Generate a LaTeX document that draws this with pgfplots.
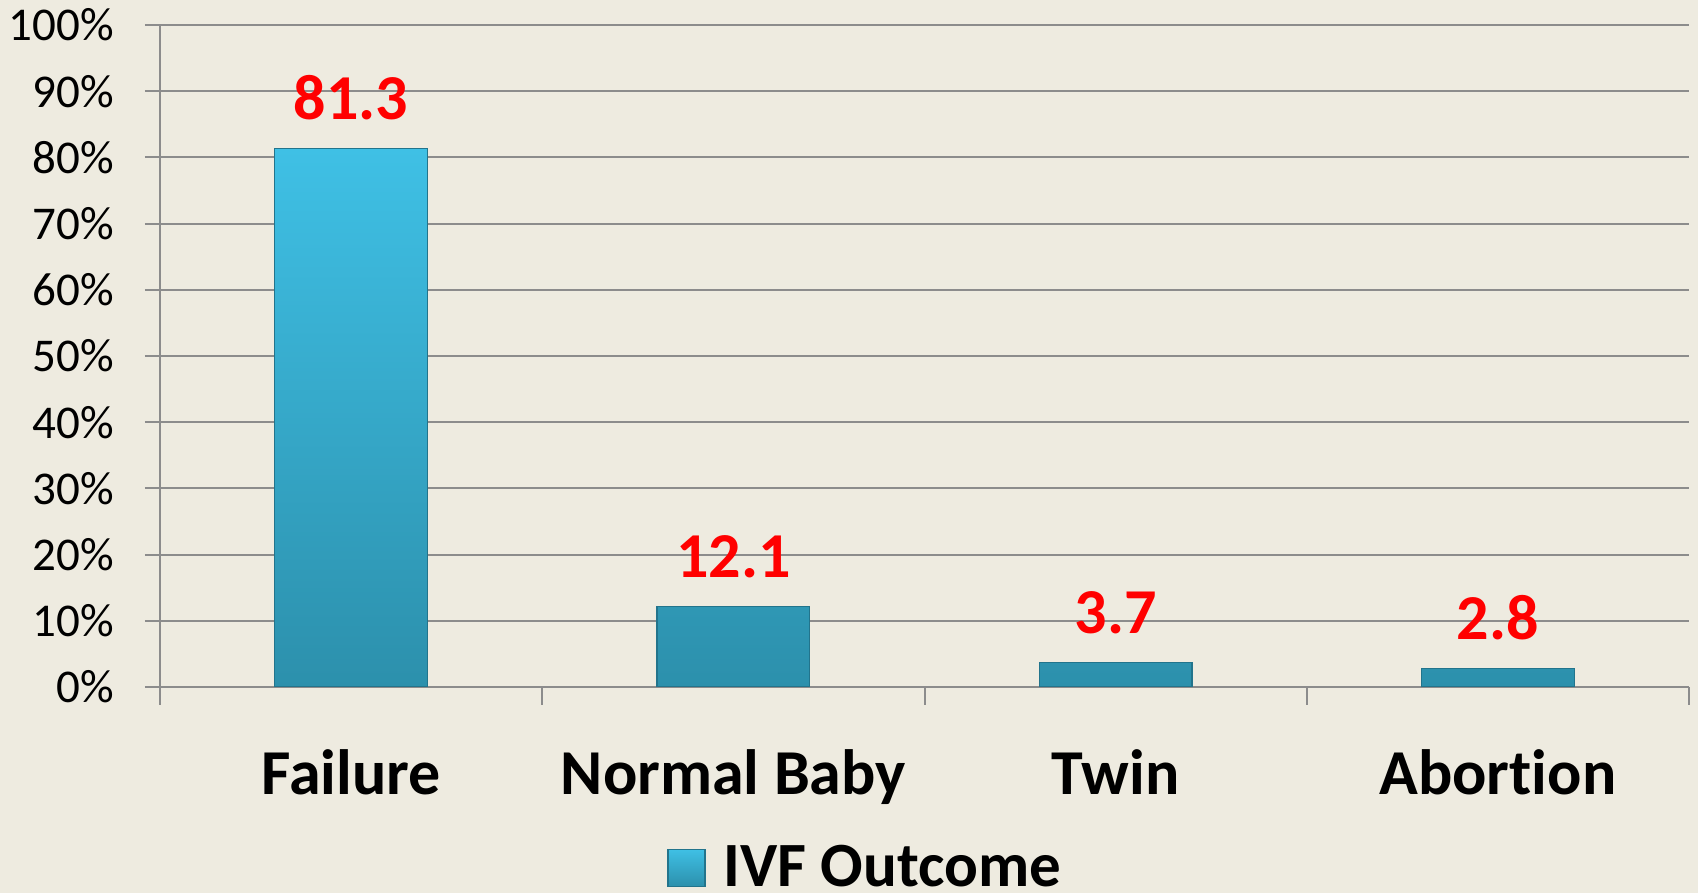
\documentclass[border=0pt]{standalone}
\usepackage{pgfplots}
\pgfplotsset{compat=1.18}
\usepackage{fontspec}
\setmainfont{Carlito}[Ligatures={NoCommon}]
\definecolor{bg}{HTML}{EEEBE0}
\definecolor{gridc}{HTML}{8C8C8C}
\definecolor{bartop}{HTML}{3FC0E5}
\definecolor{barbot}{HTML}{2C90AC}
\definecolor{baredge}{HTML}{22748C}
\begin{document}
\begin{tikzpicture}
\fill[bg] (0,0) rectangle (849pt,446.5pt);
\begin{axis}[
  at={(80pt,103pt)}, anchor=south west,
  scale only axis, width=764.5pt, height=331pt,
  xmin=-0.5, xmax=3.5, ymin=0, ymax=100,
  axis lines*=left,
  axis line style={gridc, line width=1pt},
  ytick={0,10,...,100},
  yticklabel={\pgfmathprintnumber{\tick}\%},
  /pgf/number format/assume math mode=true,
  yticklabel style={font=\fontsize{23.5}{23.5}\selectfont, anchor=east, inner sep=0pt, xshift=-15.5pt},
  ymajorgrids, grid style={gridc, line width=1pt},
  ytick align=outside,
  major tick length=7.5pt,
  y tick style={gridc, line width=1pt},
  xtick={0,1,2,3},
  xticklabels={Failure, Normal Baby, Twin, Abortion},
  major x tick style={draw=none},
  minor xtick={-0.5,0.5,1.5,2.5,3.5},
  minor x tick style={gridc, line width=1pt},
  xtick align=outside,
  minor tick length=9pt,
  xticklabel style={font=\fontsize{32}{32}\bfseries\selectfont, anchor=base, inner sep=0pt, yshift=-46.5pt},
  ybar, bar width=0.4,
  nodes near coords, point meta=explicit symbolic,
  nodes near coords style={font=\fontsize{32}{32}\bfseries\selectfont, text=red, anchor=base, inner sep=0pt, yshift=14.5pt},
  legend style={at={(axis description cs:0.3316,-0.2730)}, anchor=west, draw=none, fill=none, inner sep=0pt, font=\fontsize{31.5}{31.5}\bfseries\selectfont, nodes={inner sep=0pt}, /tikz/every odd column/.append style={column sep=9pt}},
  legend cell align=left,
  legend image code/.code={\fill[top color=bartop, bottom color=barbot, draw=baredge] (0pt,-9.25pt) rectangle (18.5pt,9.25pt);},
]
\addplot[top color=bartop, bottom color=barbot, draw=baredge, line width=0.6pt]
  coordinates {(0,81.3)[81.3] (1,12.1)[12.1] (2,3.7)[3.7] (3,2.8)[2.8]};
\legend{IVF Outcome}
\end{axis}
\pgfresetboundingbox
\path (0,0) rectangle (849pt,446.5pt);
\end{tikzpicture}
\end{document}
